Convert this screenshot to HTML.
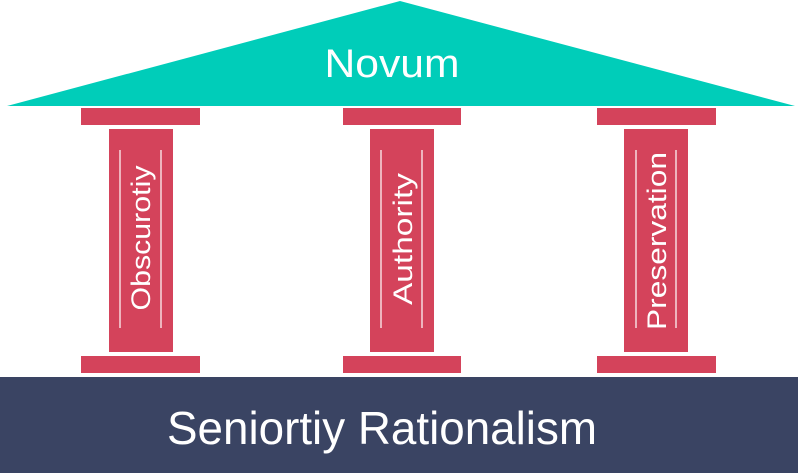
<!DOCTYPE html>
<html><head><meta charset="utf-8"><style>
html,body{margin:0;padding:0;background:#fff;}
svg{display:block;}
text{font-family:"Liberation Sans Narrow","Liberation Sans",sans-serif;fill:#fff;}
</style></head><body>
<svg width="798" height="473" viewBox="0 0 798 473" xmlns="http://www.w3.org/2000/svg">
<polygon points="400,1 795,106 7,106" fill="#00cdb9"/>
<text x="392" y="77" font-size="40" text-anchor="middle" textLength="135" lengthAdjust="spacingAndGlyphs">Novum</text>
<rect x="0" y="377" width="798" height="96" fill="#3a4463"/>
<text x="382" y="444" font-size="46" text-anchor="middle" textLength="430" lengthAdjust="spacingAndGlyphs">Seniortiy Rationalism</text>
<g fill="#d4435b">
<rect x="81" y="108" width="119" height="17"/><rect x="109" y="129" width="64" height="223"/><rect x="81" y="356" width="119" height="17"/>
<rect x="343" y="108" width="118" height="17"/><rect x="370" y="129" width="64" height="223"/><rect x="343" y="356" width="118" height="17"/>
<rect x="597" y="108" width="119" height="17"/><rect x="624" y="129" width="64" height="223"/><rect x="597" y="356" width="119" height="17"/>
</g>
<g stroke="#fff" stroke-width="1.2">
<line x1="120" y1="150" x2="120" y2="328"/><line x1="161" y1="150" x2="161" y2="328"/>
<line x1="381" y1="150" x2="381" y2="328"/><line x1="422" y1="150" x2="422" y2="328"/>
<line x1="636" y1="150" x2="636" y2="328"/><line x1="676" y1="150" x2="676" y2="328"/>
</g>
<text transform="translate(150,238) rotate(-90)" font-size="27" text-anchor="middle" textLength="145" lengthAdjust="spacingAndGlyphs">Obscurotiy</text>
<text transform="translate(412,239) rotate(-90)" font-size="27" text-anchor="middle" textLength="132" lengthAdjust="spacingAndGlyphs">Authority</text>
<text transform="translate(666,241) rotate(-90)" font-size="27" text-anchor="middle" textLength="178" lengthAdjust="spacingAndGlyphs">Preservation</text>
</svg>
</body></html>
